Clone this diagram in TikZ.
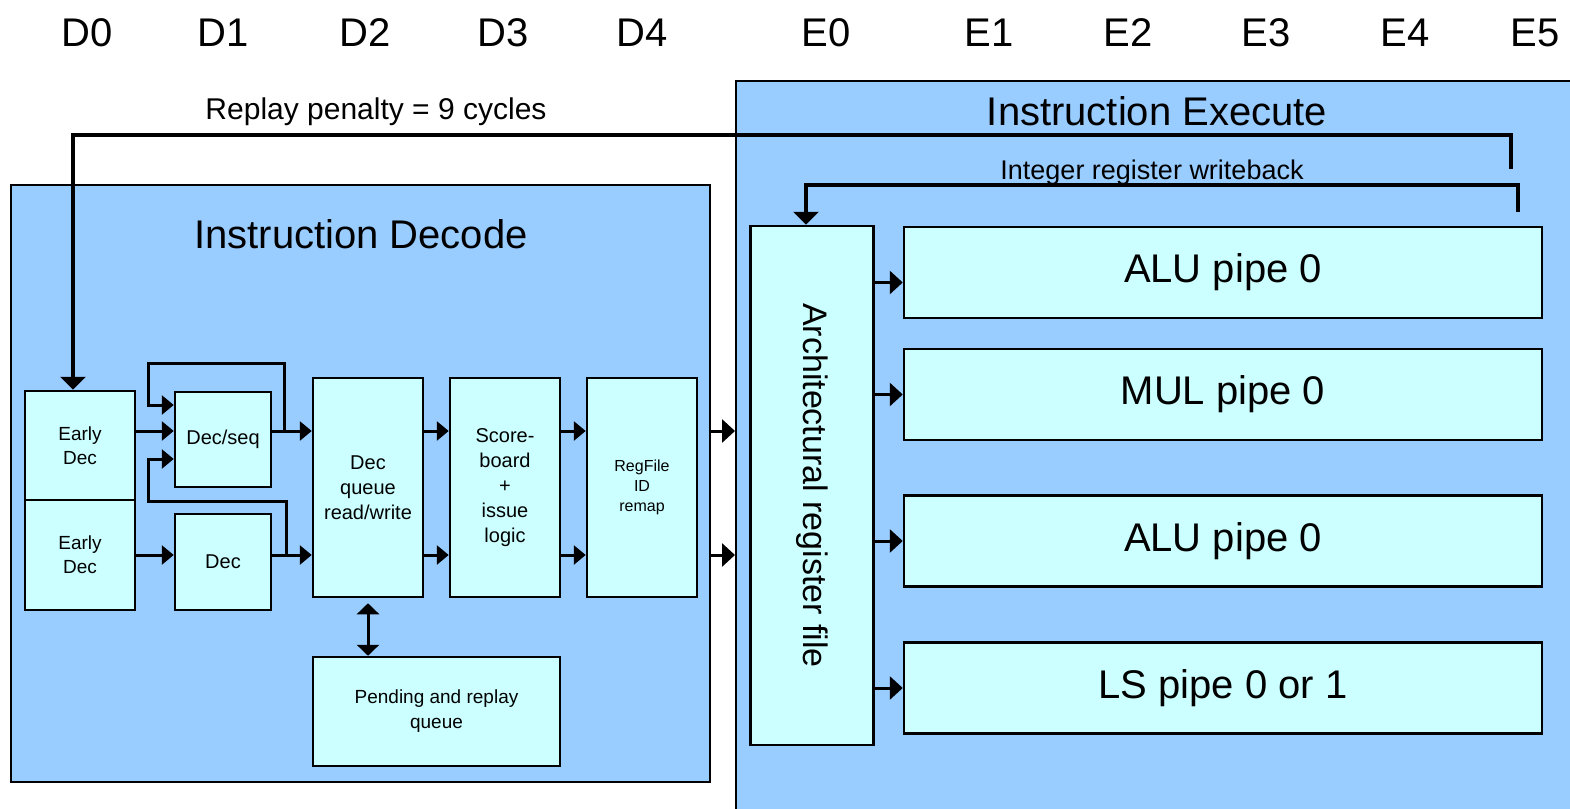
\documentclass[tikz,border=0pt]{standalone}
\usepackage{fontspec}
\setmainfont{Liberation Sans}
\usetikzlibrary{arrows.meta}
\definecolor{stageblue}{HTML}{99CCFF}
\definecolor{boxcyan}{HTML}{CCFFFF}
\tikzset{
  stage/.style={draw, line width=2pt, fill=stageblue, anchor=north west, inner sep=0pt},
  unit/.style={draw, rectangle, line width=2.5pt, fill=boxcyan, align=center, inner sep=0pt, font=\fontsize{20}{25}\selectfont},
  pipe/.style={unit, minimum width=638pt, minimum height=91pt, font=\fontsize{40}{48}\selectfont},
  title/.style={font=\fontsize{40}{48}\selectfont},
  note/.style={font=\fontsize{30}{36}\selectfont},
  smallnote/.style={font=\fontsize{27}{32}\selectfont},
  line/.style={line width=3pt, -{Triangle[length=12pt,width=19pt]}},
  xline/.style={line width=3pt, -{Triangle[length=13pt,width=23pt]}},
  feedback/.style={line width=4pt, -{Triangle[length=13pt,width=25pt]}}
}

\begin{document}
\begin{tikzpicture}[x=1pt, y=-1pt]
    \useasboundingbox (0,0) rectangle (1570,808);
    \clip (0,0) rectangle (1570,808);

    % pipeline stages
    \foreach \lbl/\x in {D0/87, D1/223, D2/365, D3/503, D4/642, E0/826, E1/989, E2/1128, E3/1266, E4/1405, E5/1535}
        \node[title] (st\lbl) at (\x,33) {\lbl};

    \node[stage, minimum width=699pt, minimum height=597pt] (decode) at (10,184) {};
    \node[stage, minimum width=850pt, minimum height=740pt] (execute) at (735,80) {};

    \node[title, anchor=base] (declbl) at (361,248) {Instruction Decode};
    \node[title, anchor=base] (exelbl) at (1157,125) {Instruction Execute};
    \node[note, anchor=base] (replaylbl) at (376,119) {Replay penalty = 9 cycles};
    \node[smallnote, anchor=base] (wblbl) at (1152,179) {Integer register writeback};

    % decode units
    \node[unit, minimum width=110pt, minimum height=109pt, font=\fontsize{19}{24}\selectfont] (early1) at (80,445.5) {Early\\Dec};
    \node[unit, minimum width=110pt, minimum height=110pt, font=\fontsize{19}{24}\selectfont] (early2) at (80,555) {Early\\Dec};
    \node[unit, minimum width=96pt, minimum height=95pt] (decseq) at (223,439.5) {Dec/seq};
    \node[unit, minimum width=96pt, minimum height=96pt] (dec) at (223,562) {Dec};
    \node[unit, minimum width=110pt, minimum height=219pt] (dq) at (368,487.5) {Dec\\queue\\read/write};
    \node[unit, minimum width=110pt, minimum height=219pt] (sb) at (505,487.5) {Score-\\board\\+\\issue\\logic};
    \node[unit, minimum width=110pt, minimum height=219pt, font=\fontsize{16}{20}\selectfont] (rf) at (642,487.5) {RegFile\\ID\\remap};
    \node[unit, minimum width=247pt, minimum height=109pt, font=\fontsize{19}{25}\selectfont] (pend) at (436.5,711.5) {Pending and replay\\queue};

    % execute units
    \node[unit, minimum width=123pt, minimum height=519pt] (arch) at (812,485.5) {};
    \node[rotate=-90, font=\fontsize{34}{40}\selectfont] (archlbl) at (arch.center) {Architectural register file};
    \node[pipe] (alu1) at (1223,272.5) {ALU pipe 0};
    \node[pipe] (mul) at (1223,394.5) {MUL pipe 0};
    \node[pipe] (alu2) at (1223,541) {ALU pipe 0};
    \node[pipe] (ls) at (1223,688) {LS pipe 0 or 1};

    \coordinate (row1) at (0,431);
    \coordinate (row2) at (0,555);
    \coordinate (tapA) at (284,431);
    \coordinate (tapB) at (286,555);
    \coordinate (replaytap) at (1511,169);
    \coordinate (wbtap) at (1518,212);

    % decode datapath
    \draw[line] (early1.east |- row1) -- (decseq.west |- row1);
    \draw[line] (early2.east |- row2) -- (dec.west |- row2);
    \draw[line] (decseq.east |- row1) -- (dq.west |- row1);
    \draw[line] (dec.east |- row2) -- (dq.west |- row2);
    \draw[line] (tapA) |- (148,363) |- (decseq.west |- 0,405);
    \draw[line] (tapB) |- (148,501) |- (decseq.west |- 0,459);
    \draw[line] (dq.east |- row1) -- (sb.west |- row1);
    \draw[line] (dq.east |- row2) -- (sb.west |- row2);
    \draw[line] (sb.east |- row1) -- (rf.west |- row1);
    \draw[line] (sb.east |- row2) -- (rf.west |- row2);
    \draw[line, {Triangle[length=11pt,width=22pt]}-{Triangle[length=11pt,width=22pt]}, shorten <=5pt] (dq.south) -- (dq.south |- pend.north);

    % into execute
    \draw[xline] (decode.east |- row1) -- (execute.west |- row1);
    \draw[xline] (decode.east |- row2) -- (execute.west |- row2);
    \draw[xline] ([yshift=-10pt]arch.east |- alu1.west) -- ([yshift=-10pt]alu1.west);
    \draw[xline] (arch.east |- mul.west) -- (mul.west);
    \draw[xline] (arch.east |- alu2.west) -- (alu2.west);
    \draw[xline] (arch.east |- ls.west) -- (ls.west);

    % replay and writeback
    \draw[feedback] (replaytap) |- (73,135) -- ([xshift=-7pt]early1.north);
    \draw[feedback] (wbtap) |- (806,185) -- ([xshift=-6pt]arch.north);
\end{tikzpicture}
\end{document}
